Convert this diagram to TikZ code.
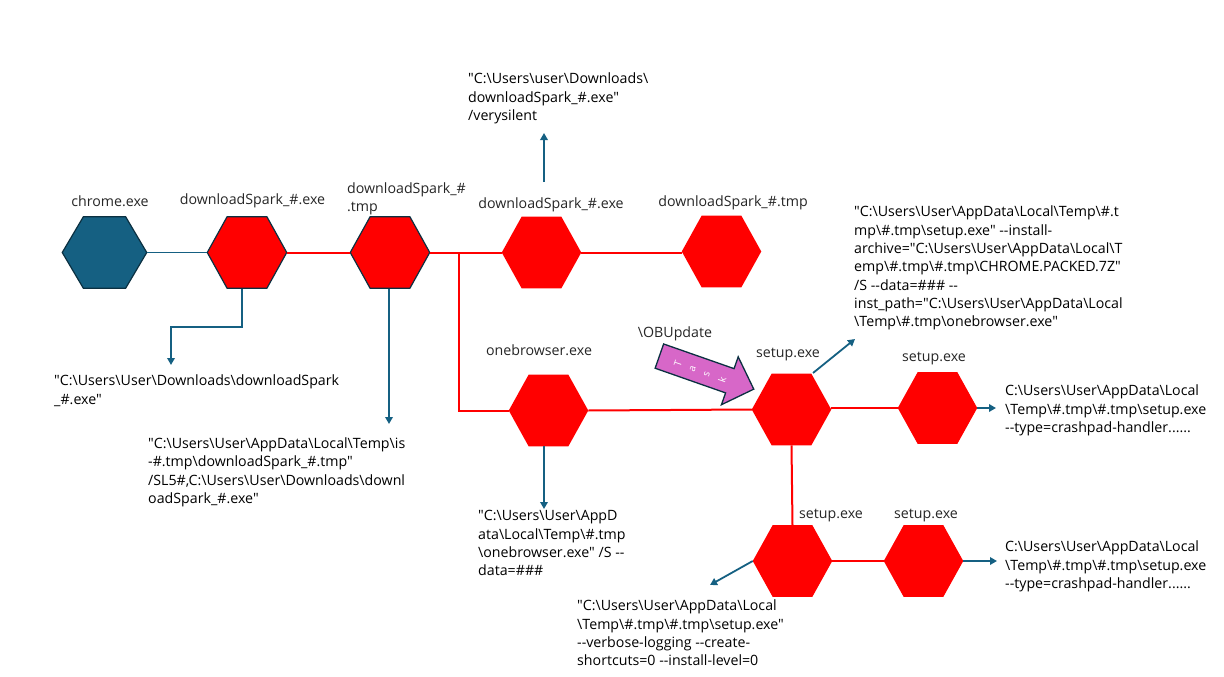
\documentclass[tikz,border=0pt]{standalone}
\usepackage{fontspec}
\setmainfont{Open Sans}[Ligatures=TeXOff]
\usetikzlibrary{shapes.geometric,shapes.arrows,arrows.meta}
\definecolor{teal}{HTML}{156082}
\definecolor{edgedark}{HTML}{0B3041}
\definecolor{taskpink}{HTML}{D767C8}
\definecolor{lbl}{HTML}{262626}
\tikzset{
  hexbase/.style={regular polygon,regular polygon sides=6,minimum size=79.5pt,inner sep=0pt,outer sep=0pt,yscale=1.04,transform shape},
  hexred/.style={hexbase,fill=red},
  hexredo/.style={hexbase,fill=red,draw=edgedark,line width=1.2pt},
  hexblue/.style={hexbase,fill=teal,draw=edgedark,line width=1.2pt,minimum size=84.5pt,yscale=0.94},
  redline/.style={draw=red,line width=2pt},
  blueline/.style={draw=teal,line width=1.8pt},
  bluearrow/.style={blueline,-{Triangle[length=7pt,width=7.5pt]}},
  lab/.style={font=\fontsize{14.2}{18}\selectfont,text=lbl,inner sep=0pt,align=left},
  cmd/.style={font=\fontsize{14.2}{18.3}\selectfont,text=black,inner sep=0pt,align=left,anchor=north west},
}
\begin{document}
\begin{tikzpicture}[x=1pt,y=-1pt]
\useasboundingbox (0,0) rectangle (1224,677);
\node[hexblue] (chrome) at (104.5,252.5) {};
\node[hexredo] (ds1) at (247,252.5) {};
\node[hexredo] (dt1) at (390,252.5) {};
\node[hexred] (ds2) at (541.5,252.5) {};
\node[hexred] (dt2) at (721.5,251.5) {};
\node[hexred] (ob) at (548.5,410.5) {};
\node[hexred] (su1) at (791.5,409.5) {};
\node[hexred] (su2) at (937.5,408) {};
\node[hexred] (su3) at (792.5,561) {};
\node[hexred] (su4) at (923.5,561) {};
\coordinate (branch) at (459,252.5);
\coordinate (bend) at (459,410.5);
\draw[blueline] (chrome.east) -- (ds1.west);
\draw[redline] (ds1.east) -- (dt1.west);
\draw[redline] (dt1.east) -- (ds2.west);
\draw[redline] (ds2.east) -- (ds2.east -| dt2.west);
\draw[redline] (branch) -- (bend) -- (ob.west);
\draw[redline] (ob.east) -- (su1.west);
\draw[redline] (su2.west -| su1.east) -- (su2.west);
\draw[redline] (su1.south) -- (su3.north);
\draw[redline] (su3.east) -- (su4.west);
\coordinate (a1a) at (242,289);
\coordinate (a1b) at (242,327);
\coordinate (a1c) at (171,327);
\coordinate (a1d) at (171,365);
\coordinate (a2a) at (389,289);
\coordinate (a2b) at (389,424);
\coordinate (a3a) at (544,182);
\coordinate (a3b) at (544,133);
\coordinate (a4a) at (544,446);
\coordinate (a4b) at (544,509);
\coordinate (a5a) at (813,373);
\coordinate (a5b) at (855,339);
\coordinate (a6b) at (996,408);
\coordinate (a7b) at (997,561);
\coordinate (a8b) at (710,585);
\draw[bluearrow] (a1a) -- (a1b) -- (a1c) -- (a1d);
\draw[bluearrow] (a2a) -- (a2b);
\draw[bluearrow] (a3a) -- (a3b);
\draw[bluearrow] (a4a) -- (a4b);
\draw[bluearrow] (a5a) -- (a5b);
\draw[bluearrow] (su2.east) -- (a6b);
\draw[bluearrow] (su4.east) -- (a7b);
\draw[bluearrow] (su3.west) -- (a8b);
\node[single arrow,fill=taskpink,draw=edgedark,line width=1.3pt,rotate=-19.3,minimum height=100pt,minimum width=0pt,text height=8pt,text depth=0pt,inner ysep=8.2pt,inner xsep=0pt,single arrow head extend=12.5pt,single arrow head indent=0pt,text=white,font=\fontsize{10}{10}\selectfont] (task) at (700.5,370.5) {\rotatebox{90}{T}\hspace{9.5pt}\rotatebox{90}{a}\hspace{9.5pt}\rotatebox{90}{s}\hspace{9.5pt}\rotatebox{90}{k}};
\node[lab,anchor=center] (l1) at (110,201) {chrome.exe};
\node[lab,anchor=center] (l2) at (252.5,200.5) {downloadSpark\_\#.exe};
\node[lab,anchor=north west] (l3) at (347,182.5) {downloadSpark\_\#\\.tmp};
\node[lab,anchor=center] (l4) at (551,205) {downloadSpark\_\#.exe};
\node[lab,anchor=center] (l5) at (733,203) {downloadSpark\_\#.tmp};
\node[lab,anchor=center] (l6) at (539,350) {onebrowser.exe};
\node[lab,anchor=center] (l7) at (675,334) {\textbackslash OBUpdate};
\node[lab,anchor=center] (l8) at (788,355) {setup.exe};
\node[lab,anchor=center] (l9) at (934,359) {setup.exe};
\node[lab,anchor=center] (l10) at (831,516) {setup.exe};
\node[lab,anchor=center] (l11) at (926,516) {setup.exe};
\node[cmd] (c1) at (468,73) {"C:\textbackslash Users\textbackslash user\textbackslash Downloads\textbackslash\\downloadSpark\_\#.exe"\\/verysilent};
\node[cmd] (c2) at (54,375) {"C:\textbackslash Users\textbackslash User\textbackslash Downloads\textbackslash downloadSpark\\\_\#.exe"};
\node[cmd] (c3) at (148,437.5) {"C:\textbackslash Users\textbackslash User\textbackslash AppData\textbackslash Local\textbackslash Temp\textbackslash is\\-\#.tmp\textbackslash downloadSpark\_\#.tmp"\\/SL5\#,C:\textbackslash Users\textbackslash User\textbackslash Downloads\textbackslash downl\\oadSpark\_\#.exe"};
\node[cmd] (c4) at (478,510.5) {"C:\textbackslash Users\textbackslash User\textbackslash AppD\\ata\textbackslash Local\textbackslash Temp\textbackslash \#.tmp\\\textbackslash onebrowser.exe" /S --\\data=\#\#\#};
\node[cmd] (c5) at (854,206) {"C:\textbackslash Users\textbackslash User\textbackslash AppData\textbackslash Local\textbackslash Temp\textbackslash \#.t\\mp\textbackslash \#.tmp\textbackslash setup.exe" --install-\\archive="C:\textbackslash Users\textbackslash User\textbackslash AppData\textbackslash Local\textbackslash T\\emp\textbackslash \#.tmp\textbackslash \#.tmp\textbackslash CHROME.PACKED.7Z"\\/S --data=\#\#\# --\\inst\_path="C:\textbackslash Users\textbackslash User\textbackslash AppData\textbackslash Local\\\textbackslash Temp\textbackslash \#.tmp\textbackslash onebrowser.exe"};
\node[cmd] (c6) at (1005,385) {C:\textbackslash Users\textbackslash User\textbackslash AppData\textbackslash Local\\\textbackslash Temp\textbackslash \#.tmp\textbackslash \#.tmp\textbackslash setup.exe\\--type=crashpad-handler......};
\node[cmd] (c7) at (1005,541) {C:\textbackslash Users\textbackslash User\textbackslash AppData\textbackslash Local\\\textbackslash Temp\textbackslash \#.tmp\textbackslash \#.tmp\textbackslash setup.exe\\--type=crashpad-handler......};
\node[cmd] (c8) at (577,600) {"C:\textbackslash Users\textbackslash User\textbackslash AppData\textbackslash Local\\\textbackslash Temp\textbackslash \#.tmp\textbackslash \#.tmp\textbackslash setup.exe"\\--verbose-logging --create-\\shortcuts=0 --install-level=0};
\end{tikzpicture}
\end{document}
